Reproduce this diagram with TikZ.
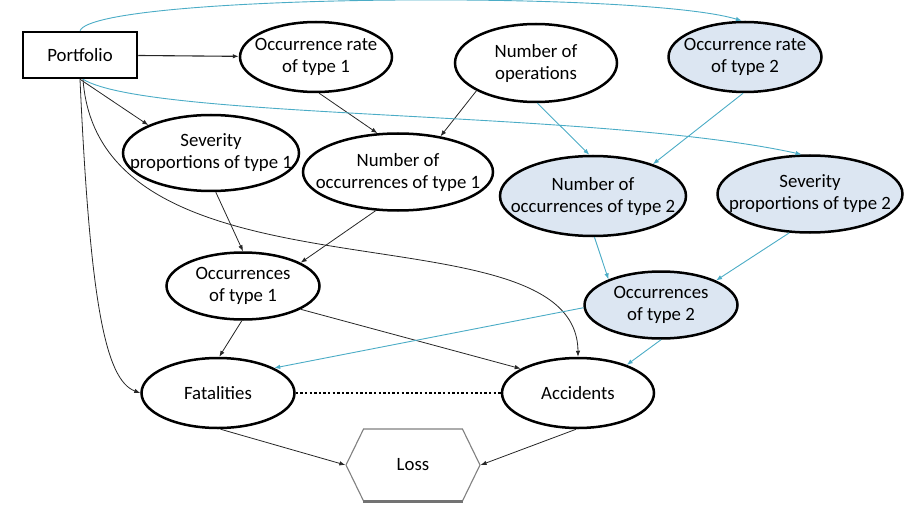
\documentclass[tikz,border=0pt]{standalone}
\usepackage{fontspec}
\setmainfont{Carlito}
\usetikzlibrary{shapes.geometric,shapes.symbols,arrows.meta}
\definecolor{linkblue}{HTML}{4BACC6}
\definecolor{nodeblue}{HTML}{DCE6F2}
\tikzset{
  txt/.style={align=center, inner sep=0pt, font=\fontsize{18.8pt}{22pt}\selectfont},
  ell/.style={ellipse, draw, line width=2.5pt, inner sep=0pt, fill=white},
  ellb/.style={ell, fill=nodeblue},
  blk/.style={draw=black!85, line width=0.8pt, -{Latex[length=6pt,width=4.5pt]}},
  blu/.style={draw=linkblue, line width=0.9pt, -{Latex[length=6pt,width=4.5pt]}},
}
\begin{document}
\begin{tikzpicture}[x=1pt,y=-1pt]
\useasboundingbox (0,0) rectangle (915,505);

% nodes
\node[draw, line width=2.5pt, minimum width=114pt, minimum height=46pt, inner sep=0pt,
      txt] (port) at (80,55) {Portfolio};
\node[ell, minimum width=152pt, minimum height=70pt,
      label={[txt]center:Occurrence rate\\of type 1}] (occr1) at (316,57) {};
\node[ell, minimum width=162pt, minimum height=78pt,
      label={[txt]center:Number of\\operations}] (nops) at (536,63) {};
\node[ellb, minimum width=153pt, minimum height=70pt,
      label={[txt]center:Occurrence rate\\of type 2}] (occr2) at (745,57) {};
\node[ell, minimum width=176pt, minimum height=76pt,
      label={[txt]center:Severity\\proportions of type 1}] (sev1) at (211,153) {};
\node[ell, minimum width=190pt, minimum height=77pt,
      label={[txt]center:Number of\\occurrences of type 1}] (noc1) at (398,172) {};
\node[ellb, minimum width=186pt, minimum height=80pt,
      label={[txt]center:Number of\\occurrences of type 2}] (noc2) at (593,196) {};
\node[ellb, minimum width=185pt, minimum height=77pt,
      label={[txt]center:Severity\\proportions of type 2}] (sev2) at (810,194) {};
\node[ell, minimum width=153pt, minimum height=67pt,
      label={[txt]center:Occurrences\\of type 1}] (occ1) at (243,286) {};
\node[ellb, minimum width=153pt, minimum height=67pt,
      label={[txt]center:Occurrences\\of type 2}] (occ2) at (661,305) {};
\node[ell, minimum width=153pt, minimum height=70pt,
      label={[txt]center:Fatalities}] (fat) at (218,393) {};
\node[ell, minimum width=152pt, minimum height=70pt,
      label={[txt]center:Accidents}] (acc) at (578,393) {};
\node[signal, signal to=east and west, signal pointer angle=128, draw=black!50,
      line width=1.1pt, fill=white, minimum width=134pt, minimum height=72pt,
      inner sep=0pt, txt] (loss) at (413,465) {Loss};
% soft shadow along the lower edge of the loss box
\draw[black!55, line width=2.2pt] ([xshift=-50pt]loss.south)
  -- ([xshift=50pt]loss.south);

% black connectors
\draw[blk, line width=1.1pt] (port) -- (occr1);
\draw[blk] (port.south) -- (sev1.156);
\draw[blk] (port.south) .. controls (90,300) and (105,380) .. (fat.west);
\draw[blk] ([xshift=3pt]port.south) .. controls (100,315) and (577,200) .. (acc.north);
\draw[blk] (occr1.-85) -- (noc1.118);
\draw[blk] (nops.205) -- (noc1.40);
\draw[blk] (sev1.-83) -- (occ1.90);
\draw[blk] (noc1.240) -- (occ1.22);
\draw[blk] (occ1.-92) -- (fat.88);
\draw[blk] (occ1.-22) -- (acc.157);
\draw[blk] (fat.-86) -- (loss.west);
\draw[blk] (acc.-93) -- (loss.east);
\draw[line width=2.5pt, dash pattern=on 2.4pt off 2.2pt] (fat.east) -- (acc.west);

% blue connectors
\draw[blu] (port.north) .. controls (95,-6) and (640,-10) .. (occr2.95);
\draw[blu] ([xshift=3pt]port.south) .. controls (150,120) and (600,110) .. (sev2.102);
\draw[blu] (nops.-88) -- (noc2.95);
\draw[blu] (occr2.-93) -- (noc2.28);
\draw[blu] (noc2.-88) -- (occ2.154);
\draw[blu] (sev2.-118) -- (occ2.24);
\draw[blu] (occ2.182) -- (fat.24);
\draw[blu] (occ2.-90) -- (acc.30);
\end{tikzpicture}
\end{document}
